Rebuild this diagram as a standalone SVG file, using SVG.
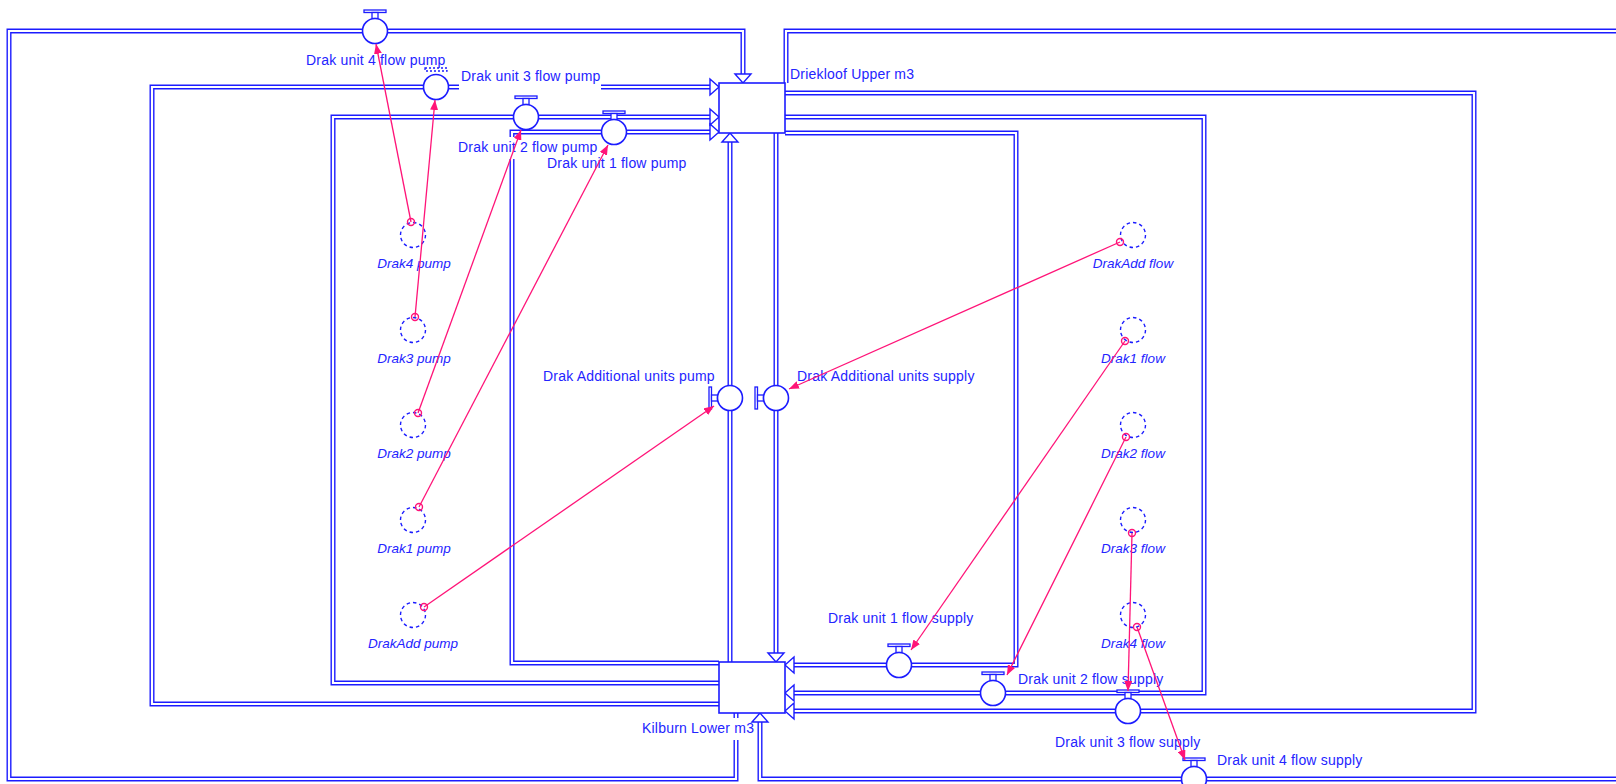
<svg xmlns="http://www.w3.org/2000/svg" xmlns:xlink="http://www.w3.org/1999/xlink" width="1616" height="784" viewBox="0 0 1616 784">
<style>
.po{fill:none;stroke:#1c1cff;stroke-width:5}
.pi{fill:none;stroke:#fff;stroke-width:2.2}
.ah{fill:#fff;stroke:#1c1cff;stroke-width:1.4;stroke-linejoin:miter}
.stock{fill:#fff;stroke:#1c1cff;stroke-width:1.6}
.vc{fill:#fff;stroke:#1c1cff;stroke-width:1.6}
.vh{fill:#fff;stroke:#1c1cff;stroke-width:1.3}
.vhd{fill:none;stroke:#1c1cff;stroke-width:1.3;stroke-dasharray:2 2}
.lbg{fill:#fff}
.t{font-family:"Liberation Sans",Arial,sans-serif;font-size:14px;letter-spacing:0.2px;fill:#2424ff}
.ti{font-family:"Liberation Sans",Arial,sans-serif;font-size:13.5px;font-style:italic;fill:#2424ff;text-anchor:middle}
.aux{fill:none;stroke:#1c1cff;stroke-width:1.4;stroke-dasharray:3.5 3}
.cn{fill:none;stroke:#ff1478;stroke-width:1.3;marker-end:url(#ca)}
.co{fill:none;stroke:#ff1478;stroke-width:1.4}
</style>
<defs>
<marker id="ca" markerUnits="userSpaceOnUse" markerWidth="10" markerHeight="8" refX="10" refY="4" orient="auto">
<path d="M0,0 L10,4 L0,8 z" fill="#ff1478"/>
</marker>
<path id="p_u4p" d="M736,713 V779 H9 V31 H743 V74"/>
<path id="p_u3p" d="M719,704 H152 V87 H710"/>
<path id="p_u2p" d="M719,683 H333 V117 H710"/>
<path id="p_u1p" d="M719,663 H512 V132 H710"/>
<path id="p_adp" d="M730,662 V142"/>
<path id="p_ads" d="M776,133 V653"/>
<path id="p_u1s" d="M785,133 H1016 V665 H794"/>
<path id="p_u2s" d="M785,117 H1204 V693 H794"/>
<path id="p_u3s" d="M785,93 H1474 V711 H794"/>
<path id="p_u4sa" d="M786,83 V31 H1620"/>
<path id="p_u4sb" d="M1620,779 H760 V722"/>
</defs>
<rect width="1616" height="784" fill="#fff"/>
<g id="pipes">
<use xlink:href="#p_u4p" class="po"/><use xlink:href="#p_u4p" class="pi"/>
<use xlink:href="#p_u3p" class="po"/><use xlink:href="#p_u3p" class="pi"/>
<use xlink:href="#p_u2p" class="po"/><use xlink:href="#p_u2p" class="pi"/>
<use xlink:href="#p_u1p" class="po"/><use xlink:href="#p_u1p" class="pi"/>
<use xlink:href="#p_adp" class="po"/><use xlink:href="#p_adp" class="pi"/>
<use xlink:href="#p_ads" class="po"/><use xlink:href="#p_ads" class="pi"/>
<use xlink:href="#p_u1s" class="po"/><use xlink:href="#p_u1s" class="pi"/>
<use xlink:href="#p_u2s" class="po"/><use xlink:href="#p_u2s" class="pi"/>
<use xlink:href="#p_u3s" class="po"/><use xlink:href="#p_u3s" class="pi"/>
<use xlink:href="#p_u4sa" class="po"/><use xlink:href="#p_u4sa" class="pi"/>
<use xlink:href="#p_u4sb" class="po"/><use xlink:href="#p_u4sb" class="pi"/>
<polygon class="ah" points="735,74 743,83 751,74"/>
<polygon class="ah" points="710,79 719,87 710,95"/>
<polygon class="ah" points="710,109 719,117 710,125"/>
<polygon class="ah" points="710,124 719,132 710,140"/>
<polygon class="ah" points="722,142 730,133 738,142"/>
<polygon class="ah" points="768,653 776,662 784,653"/>
<polygon class="ah" points="794,657 785,665 794,673"/>
<polygon class="ah" points="794,685 785,693 794,701"/>
<polygon class="ah" points="794,703 785,711 794,719"/>
<polygon class="ah" points="752,722 760,713 768,722"/>
</g>
<g id="stock-upper">
<rect class="stock" x="719" y="83" width="66" height="50"/>
<text class="t" x="790" y="79">Driekloof Upper m3</text>
</g>
<g id="stock-lower">
<rect class="stock" x="719" y="662" width="66" height="51"/>
<rect class="lbg" x="640" y="718" width="110" height="22"/>
<text class="t" x="642" y="733">Kilburn Lower m3</text>
</g>
<g id="flow-u4-pump">
<rect class="vh" x="364" y="10" width="22" height="2.5"/>
<rect class="vh" x="372" y="12.5" width="6" height="6"/>
<circle class="vc" cx="375" cy="31" r="12.5"/>
<text class="t" x="306" y="65">Drak unit 4 flow pump</text>
</g>
<g id="flow-u3-pump">
<rect class="vhd" x="425" y="68" width="22" height="3"/>
<circle class="vc" cx="436" cy="87" r="12.5"/>
<rect class="lbg" x="459" y="66" width="142" height="25"/>
<text class="t" x="461" y="81">Drak unit 3 flow pump</text>
</g>
<g id="flow-u2-pump">
<rect class="vh" x="515" y="96" width="22" height="2.5"/>
<rect class="vh" x="523" y="98.5" width="6" height="6"/>
<circle class="vc" cx="526" cy="117" r="12.5"/>
<rect class="lbg" x="456" y="137" width="141" height="22"/>
<text class="t" x="458" y="152">Drak unit 2 flow pump</text>
</g>
<g id="flow-u1-pump">
<rect class="vh" x="603" y="111" width="22" height="2.5"/>
<rect class="vh" x="611" y="113.5" width="6" height="6"/>
<circle class="vc" cx="614" cy="132" r="12.5"/>
<text class="t" x="547" y="168">Drak unit 1 flow pump</text>
</g>
<g id="flow-add-pump">
<rect class="vh" x="709" y="387" width="2.5" height="22"/>
<rect class="vh" x="711.5" y="395" width="6" height="6"/>
<circle class="vc" cx="730" cy="398" r="12.5"/>
<text class="t" x="543" y="381">Drak Additional units pump</text>
</g>
<g id="flow-add-supply">
<rect class="vh" x="755" y="387" width="2.5" height="22"/>
<rect class="vh" x="757.5" y="395" width="6" height="6"/>
<circle class="vc" cx="776" cy="398" r="12.5"/>
<text class="t" x="797" y="381">Drak Additional units supply</text>
</g>
<g id="flow-u1-supply">
<rect class="vh" x="888" y="644" width="22" height="2.5"/>
<rect class="vh" x="896" y="646.5" width="6" height="6"/>
<circle class="vc" cx="899" cy="665" r="12.5"/>
<text class="t" x="828" y="623">Drak unit 1 flow supply</text>
</g>
<g id="flow-u2-supply">
<rect class="vh" x="982" y="672" width="22" height="2.5"/>
<rect class="vh" x="990" y="674.5" width="6" height="6"/>
<circle class="vc" cx="993" cy="693" r="12.5"/>
<text class="t" x="1018" y="684">Drak unit 2 flow supply</text>
</g>
<g id="flow-u3-supply">
<rect class="vh" x="1117" y="690" width="22" height="2.5"/>
<rect class="vh" x="1125" y="692.5" width="6" height="6"/>
<circle class="vc" cx="1128" cy="711" r="12.5"/>
<text class="t" x="1055" y="747">Drak unit 3 flow supply</text>
</g>
<g id="flow-u4-supply">
<rect class="vh" x="1183" y="758" width="22" height="2.5"/>
<rect class="vh" x="1191" y="760.5" width="6" height="6"/>
<circle class="vc" cx="1194" cy="779" r="12.5"/>
<text class="t" x="1217" y="765">Drak unit 4 flow supply</text>
</g>
<g id="aux-drak4-pump"><circle class="aux" cx="413" cy="235" r="12.5"/><text class="ti" x="414" y="268">Drak4 pump</text></g>
<g id="aux-drak3-pump"><circle class="aux" cx="413" cy="330" r="12.5"/><text class="ti" x="414" y="363">Drak3 pump</text></g>
<g id="aux-drak2-pump"><circle class="aux" cx="413" cy="425" r="12.5"/><text class="ti" x="414" y="458">Drak2 pump</text></g>
<g id="aux-drak1-pump"><circle class="aux" cx="413" cy="520" r="12.5"/><text class="ti" x="414" y="553">Drak1 pump</text></g>
<g id="aux-drakadd-pump"><circle class="aux" cx="413" cy="615" r="12.5"/><text class="ti" x="413" y="648">DrakAdd pump</text></g>
<g id="aux-drakadd-flow"><circle class="aux" cx="1133" cy="235" r="12.5"/><text class="ti" x="1133" y="268">DrakAdd flow</text></g>
<g id="aux-drak1-flow"><circle class="aux" cx="1133" cy="330" r="12.5"/><text class="ti" x="1133" y="363">Drak1 flow</text></g>
<g id="aux-drak2-flow"><circle class="aux" cx="1133" cy="425" r="12.5"/><text class="ti" x="1133" y="458">Drak2 flow</text></g>
<g id="aux-drak3-flow"><circle class="aux" cx="1133" cy="520" r="12.5"/><text class="ti" x="1133" y="553">Drak3 flow</text></g>
<g id="aux-drak4-flow"><circle class="aux" cx="1133" cy="615" r="12.5"/><text class="ti" x="1133" y="648">Drak4 flow</text></g>
<g id="connectors">
<line class="cn" x1="411" y1="222" x2="376" y2="44"/><circle class="co" cx="411" cy="222" r="3.5"/>
<line class="cn" x1="415" y1="317" x2="435" y2="100"/><circle class="co" cx="415" cy="317" r="3.5"/>
<line class="cn" x1="418" y1="413" x2="521" y2="130"/><circle class="co" cx="418" cy="413" r="3.5"/>
<line class="cn" x1="419" y1="507" x2="608" y2="145"/><circle class="co" cx="419" cy="507" r="3.5"/>
<line class="cn" x1="424" y1="607" x2="714" y2="406"/><circle class="co" cx="424" cy="607" r="3.5"/>
<line class="cn" x1="1120" y1="242" x2="789" y2="389"/><circle class="co" cx="1120" cy="242" r="3.5"/>
<line class="cn" x1="1125" y1="341" x2="911" y2="650"/><circle class="co" cx="1125" cy="341" r="3.5"/>
<line class="cn" x1="1126" y1="437" x2="1007" y2="675"/><circle class="co" cx="1126" cy="437" r="3.5"/>
<line class="cn" x1="1132" y1="533" x2="1128" y2="691"/><circle class="co" cx="1132" cy="533" r="3.5"/>
<line class="cn" x1="1137" y1="627" x2="1185" y2="760"/><circle class="co" cx="1137" cy="627" r="3.5"/>
</g>
</svg>
